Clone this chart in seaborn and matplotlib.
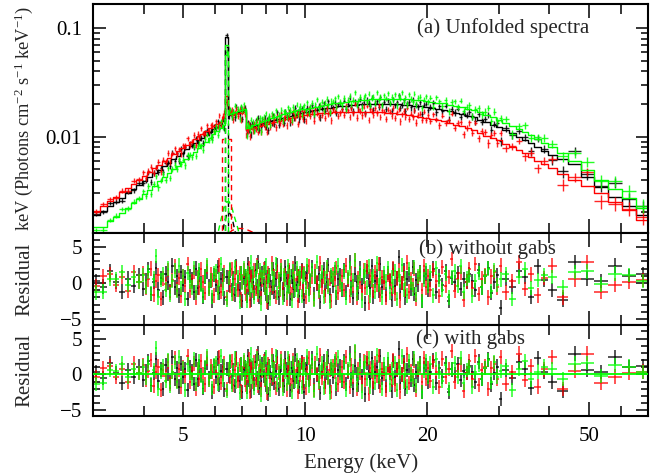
import numpy as np
import matplotlib
matplotlib.use("Agg")
import matplotlib.pyplot as plt
import seaborn as sns
from matplotlib.ticker import NullFormatter

# ---------------- data ----------------
# model bins (centres, keV)
energy_kev = [3.06, 3.18, 3.30, 3.42, 3.54, 3.66, 3.78, 3.90,
              4.02, 4.14, 4.26, 4.38, 4.50, 4.62, 4.74, 4.86, 4.98, 5.10, 5.22, 5.34, 5.46, 5.58, 5.70, 5.82, 5.94,
              6.06, 6.18, 6.30, 6.40, 6.50, 6.62, 6.74, 6.86, 6.98, 7.08,
              7.18, 7.30, 7.45, 7.60, 7.75, 7.90, 8.05, 8.20, 8.40, 8.60, 8.80, 9.00, 9.20, 9.40, 9.60, 9.80,
              10.0, 10.3, 10.6, 10.9, 11.2, 11.5, 11.8, 12.2, 12.6, 13.0, 13.4, 13.8, 14.2, 14.6, 15.0, 15.5, 16.0, 16.5,
              17.0, 17.5, 18.0, 18.6, 19.2, 19.8,
              20.5, 21.2, 22.0, 22.8, 23.6, 24.4, 25.2, 26.0, 27.0, 28.0, 29.0, 30.0, 31.2, 32.4, 33.6, 34.8, 36.0, 37.4, 38.8,
              40.5, 43.0, 46.0, 49.5, 53.5, 58.0, 63.0, 68.0]

# number of data channels inside each model bin
channels_per_bin = [1, 1, 1, 1, 1, 1, 1, 1,
                    2, 2, 2, 2, 2, 2, 2, 2, 2, 2, 2, 2, 2, 2, 2, 2, 2,
                    2, 2, 2, 1, 2, 2, 2, 2, 2, 2,
                    3, 3, 3, 3, 3, 3, 3, 3, 3, 3, 3, 3, 3, 3, 3, 3,
                    3, 3, 3, 3, 3, 3, 3, 3, 3, 3, 3, 3, 3, 3, 3, 3, 3, 3, 3, 3, 3, 3, 3, 3,
                    2, 2, 2, 2, 2, 2, 2, 2, 2, 2, 2, 2, 1, 1, 1, 1, 1, 1, 1,
                    1, 1, 1, 1, 1, 1, 1, 1]

model_black = [0.00191, 0.00207, 0.00227, 0.00249, 0.00273, 0.00299, 0.00327, 0.00357,
               0.00389, 0.00423, 0.00458, 0.00495, 0.00534, 0.00575, 0.00618, 0.00663, 0.00710, 0.00760, 0.00812, 0.00866, 0.00922, 0.00980, 0.01040, 0.01102, 0.01165,
               0.01228, 0.01292, 0.01380, 0.08200, 0.01580, 0.01630, 0.01660, 0.01690, 0.01715, 0.01740,
               0.0118, 0.0121, 0.0124, 0.0127, 0.0130, 0.0133, 0.0136, 0.0139, 0.0142, 0.0146, 0.0149, 0.0152, 0.0156, 0.0159, 0.0162, 0.0165,
               0.0168, 0.0172, 0.0176, 0.0179, 0.0182, 0.0185, 0.0188, 0.0191, 0.0193, 0.0195, 0.0197, 0.0198, 0.0199, 0.0200, 0.0200, 0.0200, 0.0200, 0.0199,
               0.0198, 0.0197, 0.0195, 0.0193, 0.0190, 0.0187,
               0.0184, 0.0180, 0.0176, 0.0171, 0.0166, 0.0161, 0.0156, 0.0150, 0.0143, 0.0136, 0.0129, 0.0122, 0.0114, 0.0107, 0.0100, 0.0093, 0.0087, 0.0080, 0.0074,
               0.0067, 0.0062, 0.0056, 0.0042, 0.0034, 0.0028, 0.0023, 0.0019]

model_red = [0.00207, 0.00228, 0.00252, 0.00278, 0.00305, 0.00334, 0.00365, 0.00398,
             0.00433, 0.00470, 0.00509, 0.00550, 0.00593, 0.00638, 0.00685, 0.00734, 0.00785, 0.00838, 0.00893, 0.00950, 0.01008, 0.01067, 0.01127, 0.01188, 0.01250,
             0.01310, 0.01370, 0.01520, 0.02350, 0.01720, 0.01580, 0.01610, 0.01635, 0.01655, 0.01670,
             0.0114, 0.0117, 0.0120, 0.0123, 0.0126, 0.0129, 0.0131, 0.0134, 0.0137, 0.0140, 0.0143, 0.0146, 0.0149, 0.0151, 0.0154, 0.0156,
             0.0158, 0.0160, 0.0162, 0.0164, 0.0165, 0.0166, 0.0167, 0.0168, 0.0169, 0.0170, 0.0170, 0.0170, 0.0170, 0.0169, 0.0168, 0.0167, 0.0166, 0.0164,
             0.0162, 0.0160, 0.0158, 0.0155, 0.0152, 0.0149,
             0.0146, 0.0142, 0.0138, 0.0134, 0.0129, 0.0124, 0.0119, 0.0114, 0.0108, 0.0102, 0.0097, 0.0092, 0.0086, 0.0080, 0.0075, 0.0070, 0.0065, 0.0060, 0.0056,
             0.0051, 0.0045, 0.0040, 0.0035, 0.0030, 0.0025, 0.0021, 0.0017]

model_green = [0.00147, 0.00147, 0.00166, 0.00182, 0.00199, 0.00219, 0.00242, 0.00267,
               0.00293, 0.00322, 0.00353, 0.00386, 0.00421, 0.00458, 0.00497, 0.00538, 0.00581, 0.00627, 0.00675, 0.00725, 0.00778, 0.00833, 0.00900, 0.00970, 0.01045,
               0.01120, 0.01200, 0.01290, 0.07000, 0.01600, 0.01660, 0.01700, 0.01730, 0.01760, 0.01780,
               0.0119, 0.0123, 0.0127, 0.0131, 0.0135, 0.0139, 0.0143, 0.0147, 0.0151, 0.0155, 0.0160, 0.0164, 0.0168, 0.0172, 0.0175, 0.0178,
               0.0181, 0.0185, 0.0189, 0.0193, 0.0197, 0.0200, 0.0203, 0.0206, 0.0209, 0.0212, 0.0214, 0.0216, 0.0218, 0.0220, 0.0221, 0.0222, 0.0223, 0.0223,
               0.0223, 0.0222, 0.0221, 0.0219, 0.0216, 0.0213,
               0.0210, 0.0206, 0.0202, 0.0197, 0.0192, 0.0187, 0.0181, 0.0175, 0.0167, 0.0159, 0.0151, 0.0143, 0.0134, 0.0126, 0.0118, 0.0110, 0.0103, 0.0095, 0.0088,
               0.0080, 0.0070, 0.0060, 0.0049, 0.0040, 0.0033, 0.0027, 0.0022]

# relative 1-sigma error of one data channel in each model bin
rel_err = [0.05, 0.05, 0.05, 0.05, 0.05, 0.05, 0.05, 0.05,
           0.06, 0.06, 0.06, 0.06, 0.06, 0.06, 0.06, 0.06, 0.06, 0.06, 0.06, 0.06, 0.06, 0.06, 0.06, 0.06, 0.06,
           0.06, 0.06, 0.06, 0.06, 0.06, 0.06, 0.06, 0.06, 0.06, 0.06,
           0.06, 0.06, 0.06, 0.06, 0.06, 0.06, 0.06, 0.06, 0.06, 0.06, 0.06, 0.06, 0.06, 0.06, 0.06, 0.06,
           0.06, 0.06, 0.06, 0.06, 0.06, 0.06, 0.06, 0.06, 0.06, 0.06, 0.06, 0.06, 0.06, 0.06, 0.06, 0.06, 0.06, 0.06,
           0.06, 0.06, 0.06, 0.06, 0.06, 0.06,
           0.06, 0.06, 0.06, 0.065, 0.065, 0.065, 0.07, 0.07, 0.07, 0.075, 0.075, 0.075, 0.07, 0.075, 0.075, 0.08, 0.08, 0.085, 0.09,
           0.09, 0.10, 0.11, 0.12, 0.13, 0.14, 0.15, 0.16]

# residuals (data - model) / sigma, one per data channel
resid_black = [0.3, -0.5, 1.6, 0.2, -1.2, 0.6, -0.4, 1.1,
               -0.8, 0.4, 1.9, -1.5, 0.2, 2.1, -0.9, 0.7, -2.0, 1.3, 0.1, -1.1, 2.4, -0.6, 0.9, -1.7, 1.5,
               -0.3, 0.8, -2.2, 1.0, 0.5, -1.3, 2.0, -0.7, 1.2, -0.1, -1.9, 0.9, 1.6, -0.5, 0.3, -2.4, 1.1,
               -0.3, 2.2, -1.4, 0.5, 1.1, -2.1, 0.8, -0.2, 1.7, -1.0, 0.6, -1.6, 2.3, 0.1, -0.9, 1.4, -2.5, 0.7, 1.0,
               0.4, -1.8, 2.6, -0.7, 1.2, -2.3, 0.9, 0.1, -1.3, 1.8, -0.5, 2.9, -1.9, 0.6, -0.9, 1.4,
               -0.2, 2.1, -1.5, 0.8, -2.7, 1.1, 0.3, -0.6, 1.9, -1.2, 0.5, 2.4, -2.0, 0.2, 1.3, -0.8,
               -1.6, 2.2, 0.7, -0.4, 1.5, -2.2, 0.9, 0.0, -1.1, 2.7, -0.3, 1.0, -1.8, 0.6, 1.7, -0.9,
               -2.4, 0.7, 1.6, -0.8, 0.3, 2.2, -1.5, 0.9, -0.1, 1.3, -2.6, 0.5, 1.9, -1.0, 0.2, 2.5, -1.7, 0.8, -0.4, 1.5, -2.0, 0.6, 1.1, -0.9,
               1.8, -1.3, 0.4, 2.9, -0.6, -2.1, 1.2, 0.1, -1.4, 2.0, -0.3, 0.9, -2.8, 1.6, 0.5, -0.7, 2.3, -1.9, 0.3, 1.0, -1.1, 2.6, -0.5, 0.8,
               -1.6, 1.4, 0.2, -2.3, 1.9, -0.4, 0.7, 3.6, -1.2, 0.0, 1.7, -2.0, 0.6, 1.2, -0.8, 2.2, -1.5, 0.4, -0.2, 1.5, -2.5, 0.9, 1.3, -1.0,
               0.4, 2.0, -1.2, 0.9, -0.3, 1.6, -2.5, 0.7, 0.1, 1.4, -0.8, 0.5, 0.2, 1.2, 0.3, -1.0, 1.8, -0.6, 0.9, 2.1, -1.4, 0.2, 1.1, -3.4,
               0.6, -0.5, 1.7, 0.8, -1.9, 2.3, 0.4,
               -1.0, -2.3, 2.9, 0.6, 0.3, 2.4, 1.0, 1.2]

resid_red = [-0.4, 0.9, 1.2, -0.3, 0.8, -1.1, 1.5, 0.2,
             1.3, -0.7, 0.5, 2.0, -1.6, 0.3, 1.1, -2.2, 0.6, -0.2, 1.8, -1.3, 0.4, 2.3, -0.9, 0.7, -1.8,
             1.0, -0.4, 2.6, -1.1, 0.2, 1.5, -2.0, 0.8, -0.6, 1.9, 0.1, -1.4, 2.2, -0.8, 1.2, 0.4, -1.7,
             1.0, -0.6, 2.4, -1.2, 0.3, 1.5, -2.0, 0.8, -0.4, 1.9, -1.5, 0.6, 2.1, -0.9, 1.3, -2.3, 0.2, 1.7, -0.7,
             -1.5, 0.6, -0.2, 2.1, -2.4, 1.0, 0.3, -1.1, 1.7, -0.8, 2.5, -1.6, 0.4, 1.2, -2.1, 0.5,
             1.9, -0.7, 0.1, -2.6, 1.4, 0.8, -1.3, 2.7, -0.5, 0.9, -1.9, 1.6, 0.2, -0.9, 2.3, -1.4,
             0.6, 1.1, -2.2, 0.3, 1.8, -0.6, -1.5, 2.0, 0.7, -0.3, 1.3, -2.5, 0.9, 0.0, 1.6, -1.2,
             1.4, -1.9, 0.2, 2.3, -0.6, 0.9, -2.2, 1.6, 0.1, -1.2, 2.7, -0.5, 0.8, -1.7, 1.9, -0.3, 0.6, -2.5, 1.2, 0.4, 2.1, -1.4, -0.2, 1.0,
             -1.0, 2.4, 0.5, -1.8, 1.3, -0.4, 3.1, -2.0, 0.7, 0.2, -1.3, 1.8, -0.7, 2.2, -2.7, 0.9, 0.3, -1.1, 1.5, -0.2, 2.6, -1.6, 0.8, 0.1,
             -2.1, 1.1, 0.4, -0.8, 2.0, -1.5, 0.6, 1.7, -2.4, 0.0, 1.3, -0.9, 2.8, -1.2, 0.5, -0.3, 1.9, -2.2, 0.7, 1.2, -1.0, 2.3, -0.6, 0.9,
             -0.9, 1.7, 0.3, -1.8, 2.2, -0.4, 0.8, 3.3, -1.1, 0.5, 1.4, -2.3, 0.2, 1.9, -0.7, 2.6, -1.5, 0.6, 1.1, -2.0, 0.9, 1.5, -0.6, 2.4,
             -1.3, 0.3, 2.9, -0.8, 1.2, -1.7, 0.7,
             2.4, -2.0, 0.5, 2.9, -1.2, -0.3, 0.2, 0.4]

resid_green = [-1.3, -1.2, 0.6, 0.5, 1.5, -0.3, 0.8, 0.2,
               1.1, -0.5, 1.5, -1.4, 0.6, 3.7, -2.0, 0.4, 1.2, -0.9, 2.0, -1.6, 0.3, 1.7, -1.1, 2.4, -0.7,
               0.9, -2.2, 1.4, 0.2, -0.6, 2.1, -1.3, 0.7, 1.8, -0.2, -1.7, 1.0, 2.5, -0.8, 0.4, -1.9, 1.3,
               1.6, -1.3, 0.5, 2.6, -0.8, 1.1, -2.3, 0.7, 1.9, -1.5, 0.3, 2.2, -1.0, 0.8, -2.6, 1.4, 0.1, 2.0, -0.5,
               0.9, -2.5, 1.4, 0.2, -1.0, 2.8, -0.4, 1.3, -1.9, 0.6, 2.2, -1.2, 0.1, 1.7, -2.8, 0.8,
               1.5, -0.6, 2.4, -1.7, 0.3, 1.0, -2.2, 1.9, -0.1, 0.7, 2.6, -1.4, 0.5, -0.8, 1.8, -2.0,
               1.1, 0.4, -1.3, 2.3, -0.5, 0.9, -2.4, 1.6, 0.2, -0.9, 2.0, -1.1, 0.6, 1.3, -1.8, 0.8,
               1.2, -0.7, 2.5, -1.6, 0.4, 1.8, -2.3, 0.9, 2.9, -1.1, 0.3, 1.5, -1.9, 0.7, 2.2, -0.5, -2.6, 1.1, 0.6, 1.9, -1.3, 2.4, 0.2, -0.8,
               1.6, -2.1, 0.8, 2.0, -0.9, 0.4, 3.2, -1.5, 0.1, 1.3, -2.4, 0.9, 1.7, -0.6, 2.3, -1.8, 0.5, 1.0, -1.2, 2.7, -0.3, 0.7, -2.0, 1.4,
               0.2, 2.1, -1.4, 0.8, -0.5, 1.6, -2.2, 1.1, 0.3, 2.5, -1.0, 0.6, -1.7, 1.9, 0.0, -0.8, 2.2, -1.6, 0.9, 1.3, -2.5, 0.5, 1.8, -0.4,
               1.5, -1.7, 2.1, 0.4, -0.9, 1.3, -2.0, 0.8, 1.6, -0.4, 2.3, -1.2, 0.6, 1.0, -1.8, 0.3, 1.4, -0.6, 0.9, 2.0, -1.1, 1.7, -0.3, 0.5,
               1.2, -2.2, 0.8, 1.9, -0.7, 0.4, 1.1,
               0.8, -0.6, 1.5, 1.6, -0.2, 1.3, 1.1, 0.3]

# Fe-line model components (dashed)
narrow_E = [6.30, 6.40, 6.50]
narrow_black = [0.0005, 0.067, 0.0005]
narrow_green = [0.0005, 0.056, 0.0005]
narrow_red_E = [6.20, 6.30, 6.40, 6.50, 6.60]
narrow_red = [0.0005, 0.0095, 0.0095, 0.0095, 0.0005]
broad_E = [6.0, 6.1, 6.2, 6.3, 6.4, 6.5, 6.6, 6.7, 6.8, 6.9, 7.0]
broad_green = [0.0009, 0.0013, 0.0017, 0.0022, 0.0025, 0.0025, 0.0022, 0.0018, 0.0015, 0.0012, 0.0009]
broad_black = [0.0005, 0.0007, 0.0011, 0.0015, 0.0019, 0.0020, 0.0018, 0.0014, 0.0011, 0.0008, 0.0005]
broad_red_E = [6.2, 6.4, 6.6, 6.8, 7.0, 7.2, 7.4, 7.6, 7.8, 8.0, 8.2, 8.4]
broad_red = [0.0009, 0.00122, 0.00136, 0.00142, 0.00142, 0.00138, 0.00132, 0.00124, 0.00115, 0.00106, 0.00097, 0.0009]

# ---------------- style ----------------
sns.set_theme(style="ticks")
plt.rcParams["font.family"] = ["Liberation Serif", "DejaVu Serif"]
plt.rcParams["mathtext.fontset"] = "custom"
plt.rcParams["mathtext.rm"] = "Liberation Serif"
plt.rcParams["mathtext.it"] = "Liberation Serif:italic"
FS = 15
BLACK, RED, GREEN = "#000000", "#ff0000", "#00ff00"

# model-bin edges
E = np.array(energy_kev)
mid = (E[:-1] + E[1:]) / 2
lo = np.r_[E[0] - (E[1] - E[0]) / 2, mid]
hi = np.r_[mid, E[-1] + (E[-1] - E[-2]) / 2]
edges = np.r_[lo, hi[-1]]

# data channels: split each model bin into its channels
ch_lo, ch_hi, parent = [], [], []
for i, n in enumerate(channels_per_bin):
    e = np.linspace(lo[i], hi[i], n + 1)
    ch_lo.extend(e[:-1]); ch_hi.extend(e[1:]); parent.extend([i] * n)
ch_lo, ch_hi, parent = np.array(ch_lo), np.array(ch_hi), np.array(parent)
ch_c = (ch_lo + ch_hi) / 2
ch_xerr = [ch_c - ch_lo, ch_hi - ch_c]
rel = np.array(rel_err)[parent]

fig = plt.figure(figsize=(6.7, 4.76), dpi=100)
L, W = 0.1388, 0.8284
ax_a = fig.add_axes([L, 0.5105, W, 0.4811])
ax_b = fig.add_axes([L, 0.3172, W, 0.1933], sharex=ax_a)
ax_c = fig.add_axes([L, 0.1261, W, 0.1912], sharex=ax_a)

for ax in (ax_a, ax_b, ax_c):
    ax.set_xscale("log")
ax_a.set_yscale("log")

series = [(model_black, resid_black, BLACK), (model_red, resid_red, RED), (model_green, resid_green, GREEN)]

for model, resid, col in series:
    m = np.array(model)
    r = np.array(resid)
    mc = m[parent]
    sig = mc * rel
    data = mc + r * sig
    ax_a.errorbar(ch_c, data, xerr=ch_xerr, yerr=sig, fmt="none", ecolor=col, elinewidth=1.0, alpha=0.85, capsize=0)
    sns.lineplot(x=edges, y=np.r_[m, m[-1]], drawstyle="steps-post", color=col, lw=1.0,
                 ax=ax_a, legend=False, estimator=None, sort=False)
    for ax in (ax_b, ax_c):
        ax.errorbar(ch_c, r, xerr=ch_xerr, yerr=1.0, fmt="none", ecolor=col, elinewidth=1.1, alpha=0.85, capsize=0)

# dashed line components
dash = dict(lw=1.0, linestyle=(0, (4, 3)), legend=False, estimator=None, sort=False)
sns.lineplot(x=broad_red_E, y=broad_red, color=RED, ax=ax_a, **dash)
sns.lineplot(x=broad_E, y=broad_black, color=BLACK, ax=ax_a, **dash)
sns.lineplot(x=broad_E, y=broad_green, color=GREEN, ax=ax_a, **dash)
sns.lineplot(x=narrow_red_E, y=narrow_red, color=RED, drawstyle="steps-mid", ax=ax_a, **dash)
sns.lineplot(x=narrow_E, y=narrow_black, color=BLACK, drawstyle="steps-mid", ax=ax_a, **dash)
sns.lineplot(x=narrow_E, y=narrow_green, color=GREEN, drawstyle="steps-mid", ax=ax_a, **dash)

ax_c.axhline(0, color=GREEN, lw=1.3, zorder=5)

# ---------------- axes ----------------
ax_a.set_xlim(3, 70)
ax_a.set_ylim(0.00129, 0.167)
ax_a.set_yticks([0.01, 0.1])
ax_a.set_yticklabels(["0.01", "0.1"])
ax_a.set_yticks([0.002, 0.003, 0.004, 0.005, 0.006, 0.007, 0.008, 0.009,
                 0.02, 0.03, 0.04, 0.05, 0.06, 0.07, 0.08, 0.09], minor=True)
ax_a.yaxis.set_minor_formatter(NullFormatter())

for ax in (ax_b, ax_c):
    ax.set_ylim(-5.8, 6.9)
    ax.set_yticks([-5, 0, 5])
    ax.set_yticks(range(-5, 7), minor=True)

for ax in (ax_a, ax_b, ax_c):
    ax.set_xticks([5, 10, 20, 50])
    ax.set_xticks([3, 4, 6, 7, 8, 9, 30, 40, 60, 70], minor=True)
    ax.xaxis.set_minor_formatter(NullFormatter())
    ax.tick_params(which="both", direction="in", top=True, right=True, width=1.1,
                   labelsize=FS, pad=8, colors="black")
    ax.tick_params(axis="x", which="major", length=10)
    ax.tick_params(axis="x", which="minor", length=7)
    ax.tick_params(axis="y", which="major", length=9)
    ax.tick_params(axis="y", which="minor", length=5)
    for s in ax.spines.values():
        s.set_linewidth(1.5)
        s.set_color("black")
    ax.set_xlabel("")
    ax.set_ylabel("")

ax_a.tick_params(labelbottom=False)
ax_b.tick_params(labelbottom=False)
ax_c.set_xticklabels(["5", "10", "20", "50"])

ax_a.set_ylabel(r"keV (Photons cm$^{-2}$ s$^{-1}$ keV$^{-1}$)", fontsize=13.2)
ax_a.yaxis.set_label_coords(-0.105, 0.5)
ax_b.set_ylabel("Residual", fontsize=FS)
ax_b.yaxis.set_label_coords(-0.105, 0.5)
ax_c.set_ylabel("Residual", fontsize=FS)
ax_c.yaxis.set_label_coords(-0.105, 0.5)
ax_c.set_xlabel("Energy (keV)", fontsize=FS)
ax_c.xaxis.set_label_coords(0.483, -0.41)

ax_a.text(0.739, 0.895, "(a) Unfolded spectra", transform=ax_a.transAxes, ha="center", va="center", fontsize=FS)
ax_b.text(0.71, 0.83, "(b) without gabs", transform=ax_b.transAxes, ha="center", va="center", fontsize=FS)
ax_c.text(0.681, 0.84, "(c) with gabs", transform=ax_c.transAxes, ha="center", va="center", fontsize=FS)

fig.savefig("out.png", dpi=100)
